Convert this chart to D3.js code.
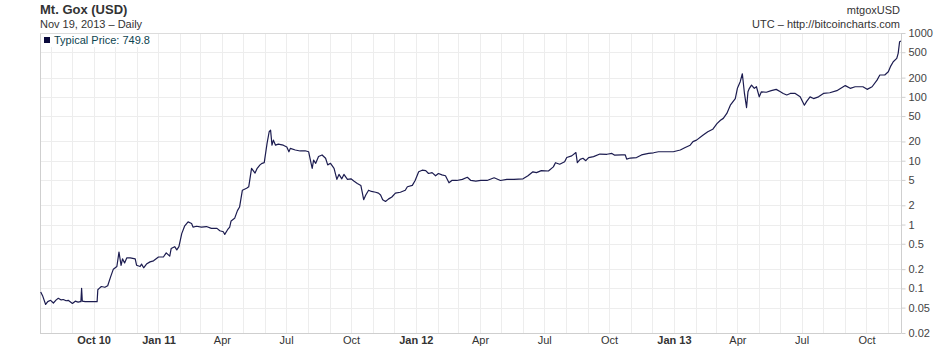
<!DOCTYPE html>
<html>
<head>
<meta charset="utf-8">
<script src="https://cdn.jsdelivr.net/npm/d3@7"></script>
<style>
  body { margin: 0; background: #fff; }
  svg text { font-family: "Liberation Sans", Arial, sans-serif; }
</style>
</head>
<body>
<div id="chart"></div>
<script>
// Mt. Gox typical price (date, USD)
var series = [
    ["2010-07-18", 0.088], ["2010-07-21", 0.075], ["2010-07-25", 0.056], ["2010-07-28", 0.062],
    ["2010-08-01", 0.065], ["2010-08-05", 0.059], ["2010-08-09", 0.066], ["2010-08-12", 0.070],
    ["2010-08-16", 0.066], ["2010-08-19", 0.067], ["2010-08-23", 0.064], ["2010-08-26", 0.065],
    ["2010-09-01", 0.058], ["2010-09-05", 0.063], ["2010-09-09", 0.061], ["2010-09-12", 0.062],
    ["2010-09-13", 0.062], ["2010-09-14", 0.10], ["2010-09-15", 0.063], ["2010-09-19", 0.062],
    ["2010-09-23", 0.062], ["2010-09-29", 0.062], ["2010-10-06", 0.062], ["2010-10-07", 0.095],
    ["2010-10-09", 0.10], ["2010-10-12", 0.107], ["2010-10-17", 0.104], ["2010-10-21", 0.11],
    ["2010-10-25", 0.15], ["2010-10-29", 0.20], ["2010-11-03", 0.22], ["2010-11-06", 0.37],
    ["2010-11-09", 0.23], ["2010-11-11", 0.29], ["2010-11-14", 0.25], ["2010-11-17", 0.30],
    ["2010-11-22", 0.30], ["2010-11-29", 0.29], ["2010-12-01", 0.23], ["2010-12-06", 0.22],
    ["2010-12-08", 0.24], ["2010-12-11", 0.21], ["2010-12-15", 0.24], ["2010-12-20", 0.26],
    ["2010-12-25", 0.27], ["2011-01-01", 0.31], ["2011-01-08", 0.31], ["2011-01-12", 0.36],
    ["2011-01-17", 0.32], ["2011-01-19", 0.42], ["2011-01-24", 0.45], ["2011-01-27", 0.40],
    ["2011-01-30", 0.45], ["2011-02-03", 0.72], ["2011-02-07", 0.94], ["2011-02-12", 1.10],
    ["2011-02-17", 1.04], ["2011-02-19", 0.91], ["2011-02-24", 0.94], ["2011-03-03", 0.91],
    ["2011-03-10", 0.93], ["2011-03-17", 0.87], ["2011-03-25", 0.87], ["2011-03-29", 0.80],
    ["2011-04-03", 0.77], ["2011-04-05", 0.70], ["2011-04-09", 0.83], ["2011-04-12", 0.91],
    ["2011-04-14", 1.14], ["2011-04-19", 1.25], ["2011-04-23", 1.65], ["2011-04-26", 1.88],
    ["2011-04-30", 3.45], ["2011-05-06", 3.7], ["2011-05-09", 3.9], ["2011-05-13", 7.6],
    ["2011-05-18", 6.4], ["2011-05-21", 7.6], ["2011-05-25", 8.6], ["2011-05-28", 9.1],
    ["2011-05-31", 9.3], ["2011-06-04", 18.7], ["2011-06-07", 28.4], ["2011-06-09", 30],
    ["2011-06-11", 17.5], ["2011-06-13", 21], ["2011-06-16", 17.5], ["2011-06-20", 18.2],
    ["2011-06-27", 17.5], ["2011-07-02", 16.4], ["2011-07-05", 13.8], ["2011-07-07", 15.6],
    ["2011-07-14", 14.7], ["2011-07-21", 14.2], ["2011-07-28", 14.3], ["2011-08-02", 13.8],
    ["2011-08-05", 9.6], ["2011-08-07", 7.6], ["2011-08-09", 10.2], ["2011-08-12", 9.1],
    ["2011-08-16", 11.6], ["2011-08-21", 12.3], ["2011-08-26", 10.9], ["2011-08-29", 8.6],
    ["2011-09-02", 9.1], ["2011-09-07", 7.6], ["2011-09-11", 5.1], ["2011-09-14", 6.1],
    ["2011-09-18", 5.2], ["2011-09-21", 6.1], ["2011-09-26", 5.1], ["2011-10-01", 5.2],
    ["2011-10-05", 4.8], ["2011-10-10", 4.4], ["2011-10-15", 4.1], ["2011-10-17", 3.2],
    ["2011-10-19", 2.45], ["2011-10-22", 2.9], ["2011-10-26", 3.45], ["2011-10-30", 3.3],
    ["2011-11-05", 3.2], ["2011-11-09", 3.1], ["2011-11-12", 2.9], ["2011-11-15", 2.45],
    ["2011-11-19", 2.3], ["2011-11-23", 2.5], ["2011-11-28", 2.7], ["2011-12-03", 3.1],
    ["2011-12-10", 3.2], ["2011-12-17", 3.45], ["2011-12-20", 3.9], ["2011-12-27", 4.1],
    ["2011-12-31", 4.9], ["2012-01-05", 6.7], ["2012-01-10", 7.1], ["2012-01-15", 7.0],
    ["2012-01-19", 6.3], ["2012-01-24", 6.5], ["2012-01-29", 5.8], ["2012-02-02", 6.3],
    ["2012-02-07", 6.0], ["2012-02-12", 5.8], ["2012-02-17", 4.5], ["2012-02-21", 4.9],
    ["2012-02-28", 4.9], ["2012-03-07", 5.1], ["2012-03-14", 5.5], ["2012-03-19", 4.9],
    ["2012-03-26", 4.8], ["2012-04-02", 4.9], ["2012-04-11", 4.9], ["2012-04-21", 5.4],
    ["2012-04-30", 4.9], ["2012-05-09", 5.1], ["2012-05-19", 5.1], ["2012-06-01", 5.2],
    ["2012-06-08", 5.8], ["2012-06-15", 6.7], ["2012-06-20", 6.5], ["2012-06-27", 7.0],
    ["2012-07-07", 6.9], ["2012-07-14", 8.0], ["2012-07-17", 9.3], ["2012-07-23", 8.8],
    ["2012-07-30", 9.6], ["2012-08-02", 11.2], ["2012-08-09", 11.9], ["2012-08-15", 13.4],
    ["2012-08-17", 9.3], ["2012-08-21", 10.5], ["2012-08-25", 10.9], ["2012-08-29", 10.0],
    ["2012-09-02", 11.2], ["2012-09-09", 11.6], ["2012-09-18", 12.7], ["2012-09-28", 12.6],
    ["2012-10-05", 13.0], ["2012-10-09", 12.2], ["2012-10-19", 12.3], ["2012-10-24", 12.3],
    ["2012-10-26", 10.6], ["2012-10-31", 11.0], ["2012-11-09", 11.2], ["2012-11-16", 12.3],
    ["2012-11-26", 13.0], ["2012-12-03", 13.3], ["2012-12-10", 13.8], ["2012-12-22", 13.8],
    ["2012-12-31", 13.8], ["2013-01-10", 14.7], ["2013-01-17", 16.1], ["2013-01-24", 17.5],
    ["2013-01-28", 19.9], ["2013-02-02", 21], ["2013-02-11", 25], ["2013-02-18", 28.4],
    ["2013-02-25", 31], ["2013-03-03", 38], ["2013-03-08", 43], ["2013-03-12", 46],
    ["2013-03-17", 55], ["2013-03-22", 74], ["2013-03-29", 94], ["2013-04-01", 136],
    ["2013-04-05", 173], ["2013-04-08", 230], ["2013-04-11", 113], ["2013-04-14", 68],
    ["2013-04-16", 120], ["2013-04-18", 136], ["2013-04-21", 153], ["2013-04-23", 144],
    ["2013-04-25", 136], ["2013-04-28", 144], ["2013-05-02", 100], ["2013-05-05", 120],
    ["2013-05-12", 118], ["2013-05-19", 125], ["2013-05-26", 131], ["2013-06-01", 120],
    ["2013-06-05", 113], ["2013-06-10", 107], ["2013-06-15", 113], ["2013-06-22", 113],
    ["2013-06-29", 100], ["2013-07-05", 74], ["2013-07-08", 84], ["2013-07-13", 100],
    ["2013-07-18", 94], ["2013-07-25", 100], ["2013-08-01", 113], ["2013-08-10", 116],
    ["2013-08-20", 125], ["2013-09-01", 150], ["2013-09-08", 136], ["2013-09-15", 144],
    ["2013-09-26", 144], ["2013-10-02", 131], ["2013-10-09", 144], ["2013-10-16", 183],
    ["2013-10-20", 220], ["2013-10-27", 220], ["2013-11-01", 247], ["2013-11-04", 297],
    ["2013-11-08", 355], ["2013-11-13", 400], ["2013-11-15", 480], ["2013-11-17", 730],
    ["2013-11-19", 749.8]
];

var yTicks = [1000, 500, 200, 100, 50, 20, 10, 5, 2, 1, 0.5, 0.2, 0.1, 0.05, 0.02];
var xTickDates = ["2010-10-01", "2011-01-01", "2011-04-01", "2011-07-01", "2011-10-01",
    "2012-01-01", "2012-04-01", "2012-07-01", "2012-10-01", "2013-01-01",
    "2013-04-01", "2013-07-01", "2013-10-01"];
var xTickLabels = ["Oct 10", "Jan 11", "Apr", "Jul", "Oct", "Jan 12", "Apr", "Jul", "Oct",
    "Jan 13", "Apr", "Jul", "Oct"];
var boldLabels = ["Oct 10", "Jan 11", "Jan 12", "Jan 13"];

var W = 940, H = 348;
var plotLeft = 40, plotRight = 901, plotTop = 33, plotBottom = 333;
var parse = d3.utcParse('%Y-%m-%d');

var data = series.map(function (d) { return { date: parse(d[0]), value: d[1] }; });

var svg = d3.select('#chart').append('svg')
    .attr('width', W)
    .attr('height', H);

var x = d3.scaleUtc()
    .domain([parse('2010-07-17'), parse('2013-11-19')])
    .range([plotLeft, plotRight]);

var y = d3.scaleLog()
    .domain([0.02, 1000])
    .range([plotBottom, plotTop]);

// grid: monthly verticals, one horizontal per tick
var months = d3.utcMonth.range(parse('2010-08-01'), parse('2013-11-19'));
svg.append('g').selectAll('line')
    .data(months)
    .enter().append('line')
    .attr('x1', function (d) { return Math.round(x(d)) + 0.5; })
    .attr('x2', function (d) { return Math.round(x(d)) + 0.5; })
    .attr('y1', plotTop)
    .attr('y2', plotBottom)
    .attr('stroke', '#ededed');

svg.append('g').selectAll('line')
    .data(yTicks)
    .enter().append('line')
    .attr('x1', plotLeft)
    .attr('x2', plotRight)
    .attr('y1', function (d) { return Math.round(y(d)) + 0.5; })
    .attr('y2', function (d) { return Math.round(y(d)) + 0.5; })
    .attr('stroke', '#ededed');

// frame
svg.append('line').attr('x1', plotLeft + 0.5).attr('x2', plotLeft + 0.5).attr('y1', plotTop).attr('y2', plotBottom + 0.5).attr('stroke', '#cfcfcf');
svg.append('line').attr('x1', plotLeft).attr('x2', plotRight).attr('y1', plotBottom + 0.5).attr('y2', plotBottom + 0.5).attr('stroke', '#cfcfcf');
svg.append('line').attr('x1', plotLeft).attr('x2', plotRight).attr('y1', plotTop + 0.5).attr('y2', plotTop + 0.5).attr('stroke', '#dcdcdc');

// price line
var line = d3.line()
    .x(function (d) { return x(d.date); })
    .y(function (d) { return y(d.value); });

svg.append('path')
    .datum(data)
    .attr('fill', 'none')
    .attr('stroke', '#1c1c50')
    .attr('stroke-width', 1.2)
    .attr('stroke-linejoin', 'round')
    .attr('d', line);

// right axis
var yAxis = d3.axisRight(y)
    .tickValues(yTicks)
    .tickSize(4)
    .tickPadding(3)
    .tickFormat(function (d) { return String(d); });

var gy = svg.append('g')
    .attr('transform', 'translate(' + (plotRight + 0.5) + ',0)')
    .call(yAxis);
gy.select('.domain').attr('stroke', '#cfcfcf').attr('d', 'M0,' + plotTop + 'V' + (plotBottom + 0.5));
gy.selectAll('.tick line').attr('stroke', '#cfcfcf');
gy.selectAll('.tick text')
    .attr('font-size', 11)
    .attr('fill', '#444')
    .style('font-family', '"Liberation Sans", Arial, sans-serif');

// bottom axis, quarterly labels
var xAxis = d3.axisBottom(x)
    .tickValues(xTickDates.map(parse))
    .tickSize(0)
    .tickPadding(3)
    .tickFormat(function (d, i) { return xTickLabels[i]; });

var gx = svg.append('g')
    .attr('transform', 'translate(0,' + plotBottom + ')')
    .call(xAxis);
gx.select('.domain').remove();
gx.selectAll('.tick text')
    .attr('font-size', 11)
    .attr('fill', '#333')
    .style('font-family', '"Liberation Sans", Arial, sans-serif')
    .attr('font-weight', function (d, i) { return boldLabels.indexOf(xTickLabels[i]) >= 0 ? 'bold' : 'normal'; });

// headers
svg.append('text')
    .attr('x', 40).attr('y', 14)
    .attr('font-size', 13).attr('font-weight', 'bold').attr('fill', '#333')
    .text('Mt. Gox (USD)');
svg.append('text')
    .attr('x', 40).attr('y', 28)
    .attr('font-size', 11).attr('fill', '#333')
    .text('Nov 19, 2013 \u2013 Daily');
svg.append('text')
    .attr('x', 900).attr('y', 14)
    .attr('text-anchor', 'end')
    .attr('font-size', 11).attr('fill', '#333')
    .text('mtgoxUSD');
svg.append('text')
    .attr('x', 900).attr('y', 28)
    .attr('text-anchor', 'end')
    .attr('font-size', 11).attr('fill', '#333')
    .text('UTC \u2013 http://bitcoincharts.com');

// legend
var legend = svg.append('g');
legend.append('rect')
    .attr('x', plotLeft + 1).attr('y', plotTop + 1)
    .attr('width', 108).attr('height', 13)
    .attr('fill', '#fff');
legend.append('rect')
    .attr('x', 44).attr('y', 37)
    .attr('width', 6).attr('height', 6)
    .attr('fill', '#0a0a3c');
legend.append('text')
    .attr('x', 54).attr('y', 44)
    .attr('font-size', 11).attr('fill', '#0d4450')
    .text('Typical Price: 749.8');
</script>
</body>
</html>
